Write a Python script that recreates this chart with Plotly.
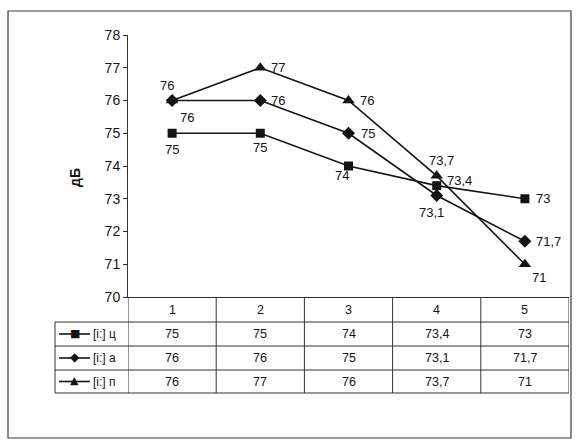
import plotly.graph_objects as go

# ---- data ----
categories = [1, 2, 3, 4, 5]
series_names = ["[i:] ц", "[i:] а", "[i:] п"]
values_ts = [75, 75, 74, 73.4, 73]
values_a = [76, 76, 75, 73.1, 71.7]
values_p = [76, 77, 76, 73.7, 71]
y_ticks = [70, 71, 72, 73, 74, 75, 76, 77, 78]

series_values = [values_ts, values_a, values_p]
symbols = ["square", "diamond", "triangle-up"]
marker_sizes = [9, 10, 11]
glyphs = ["■", "◆", "▲"]

# label offsets (px) for each point's value label: (dx, dy up)
label_offsets = [
    [(0, -16), (0, -14), (-7, -9), (23, 5), (18, 0)],
    [(15, -17), (18, 0), (19, 0), (-5, -17), (24, 0)],
    [(-5, 15), (18, 0), (18, 0), (5, 15), (14, -13)],
]

W, H = 576, 441
PL, PR, PT, PB = 128, 569, 35, 297  # plot area in px
INK = "#141414"
FONT = "Liberation Sans, Arial, sans-serif"


def px(xp):
    return (xp - PL) / (PR - PL)


def py(yp):
    return (PB - yp) / (PB - PT)


def fmt(v):
    return ("%g" % v).replace(".", ",")


fig = go.Figure()

for name, vals, sym, ms in zip(series_names, series_values, symbols, marker_sizes):
    fig.add_trace(go.Scatter(
        x=categories, y=vals, name=name, mode="lines+markers",
        line=dict(color=INK, width=1.6),
        marker=dict(symbol=sym, size=ms, color=INK),
        cliponaxis=False, showlegend=False,
    ))

annotations = []
# value labels next to points
for vals, offs in zip(series_values, label_offsets):
    for c, v, (dx, dy) in zip(categories, vals, offs):
        annotations.append(dict(
            x=c, y=v, xref="x", yref="y", text=fmt(v), showarrow=False,
            xanchor="center", yanchor="middle",
            xshift=dx, yshift=dy, font=dict(size=13, color=INK, family=FONT),
        ))

# data table beneath the axis
row_edges = [297, 322, 346, 370, 393]
row_centers = [(row_edges[i] + row_edges[i + 1]) / 2 for i in range(4)]
col_edges = [c + 0.5 for c in [0] + categories]

shapes = []
line_style = dict(color="#333333", width=1)
# horizontal rules
for r in row_edges[1:]:
    shapes.append(dict(type="line", xref="paper", yref="paper",
                       x0=px(55), x1=px(PR), y0=py(r), y1=py(r), line=line_style))
# vertical rules
for ce in col_edges:
    shapes.append(dict(type="line", xref="x", yref="paper",
                       x0=ce, x1=ce, y0=py(row_edges[0]), y1=py(row_edges[-1]), line=line_style))
shapes.append(dict(type="line", xref="paper", yref="paper",
                   x0=px(55), x1=px(55), y0=py(row_edges[1]), y1=py(row_edges[-1]), line=line_style))

cell_font = dict(size=12.5, color=INK, family=FONT)
# header row
for c in categories:
    annotations.append(dict(x=c, y=py(row_centers[0]), xref="x", yref="paper",
                            text=str(c), showarrow=False,
                            xanchor="center", yanchor="middle", font=cell_font))
# value rows with legend keys
for i, (name, vals, g) in enumerate(zip(series_names, series_values, glyphs)):
    yc = py(row_centers[i + 1])
    for c, v in zip(categories, vals):
        annotations.append(dict(x=c, y=yc, xref="x", yref="paper", text=fmt(v),
                                showarrow=False, xanchor="center", yanchor="middle",
                                font=cell_font))
    shapes.append(dict(type="line", xref="paper", yref="paper",
                       x0=px(59), x1=px(90), y0=yc, y1=yc,
                       line=dict(color=INK, width=1.6)))
    annotations.append(dict(x=px(74.5), y=yc, xref="paper", yref="paper", text=g,
                            showarrow=False, xanchor="center", yanchor="middle", yshift=1,
                            font=dict(size=11 if g != "◆" else 12, color=INK, family="DejaVu Sans")))
    annotations.append(dict(x=px(91), y=yc, xref="paper", yref="paper", text=name,
                            showarrow=False, xanchor="left", yanchor="middle",
                            font=dict(size=12, color=INK, family=FONT)))

# y-axis title
annotations.append(dict(x=px(75), y=py(178), xref="paper", yref="paper", text="<b>дБ</b>",
                        showarrow=False, textangle=-90, xanchor="center", yanchor="middle",
                        font=dict(size=14, color=INK, family=FONT)))

# outer chart frame
shapes.append(dict(type="rect", xref="paper", yref="paper",
                   x0=px(8), x1=px(571), y0=py(438), y1=py(11),
                   line=dict(color="#3a3a3a", width=1.2)))

fig.update_layout(
    width=W, height=H,
    margin=dict(l=PL, r=W - PR, t=PT, b=H - PB, pad=0),
    paper_bgcolor="white", plot_bgcolor="white",
    font=dict(family=FONT, color=INK),
    xaxis=dict(range=[0.5, 5.5], showgrid=False, zeroline=False,
               showline=True, linecolor="#333333", linewidth=1,
               showticklabels=False, ticks="", fixedrange=True),
    yaxis=dict(range=[70, 78], tickvals=y_ticks, showgrid=False, zeroline=False,
               showline=True, linecolor="#333333", linewidth=1,
               ticks="outside", ticklen=4, tickcolor="#333333",
               tickfont=dict(size=14, color=INK, family=FONT), fixedrange=True),
    shapes=shapes, annotations=annotations,
)

fig.write_html("out.html")
